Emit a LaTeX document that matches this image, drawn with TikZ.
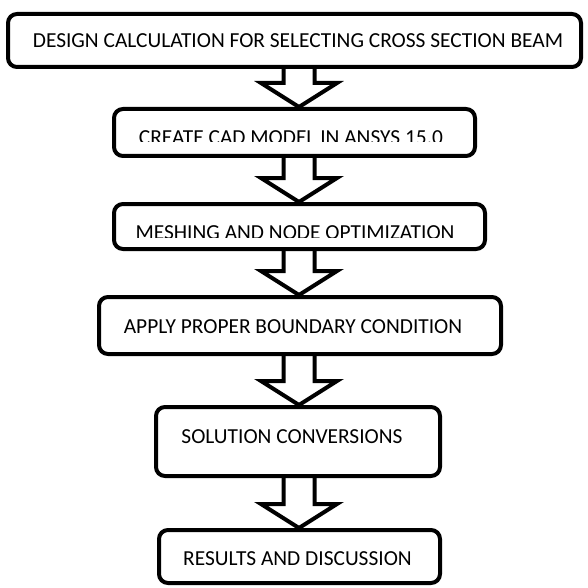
\documentclass[tikz,border=0pt]{standalone}
\usepackage{fontspec}
\setmainfont{Carlito}
\usetikzlibrary{calc}

\tikzset{
	stepbox/.style={draw=black, line width=4pt, rounded corners=9pt, inner sep=0pt},
	steptext/.style={anchor=base, inner sep=0pt, font=\fontsize{21.4}{25}\selectfont},
	blockarrow/.style={draw=black, line width=4pt, line join=miter},
}

\begin{document}
\begin{tikzpicture}[x=1pt, y=-1pt]
	\useasboundingbox (0,0) rectangle (587,588);

	\coordinate[](axis) at (299,0);

	\pgfmathsetmacro{\hw}{15.5}
	\pgfmathsetmacro{\hh}{38}
	\pgfmathsetmacro{\hl}{24}

	% Blocchi
	\node[stepbox, minimum width=573pt, minimum height=53pt] (design) at (294.5,40.5) {};
	\node[stepbox, minimum width=361pt, minimum height=47pt] (cad)    at (294.5,132.5) {};
	\node[stepbox, minimum width=371pt, minimum height=45pt] (mesh)   at (299.5,226.5) {};
	\node[stepbox, minimum width=402pt, minimum height=57pt] (bound)  at (300,325.5) {};
	\node[stepbox, minimum width=284pt, minimum height=69pt] (sol)    at (298,441.5) {};
	\node[stepbox, minimum width=281pt, minimum height=53pt] (res)    at (299.5,556.5) {};

	% Testi
	\node[steptext] (tdesign) at (298,48) {DESIGN CALCULATION FOR SELECTING CROSS SECTION BEAM};
	\begin{scope}
	\clip (cad.north west) rectangle ($(cad.east)+(0,9.5)$);
	\node[steptext] (tcad) at (291,145) {CREATE CAD MODEL IN ANSYS 15.0};
	\end{scope}
	\begin{scope}
	\clip (mesh.north west) rectangle ($(mesh.east)+(0,11)$);
	\node[steptext] (tmesh) at (295,239) {MESHING AND NODE OPTIMIZATION};
	\end{scope}
	\node[steptext] (tbound) at (293,333) {APPLY PROPER BOUNDARY CONDITION};
	\node[steptext] (tsol)   at (292,443) {SOLUTION CONVERSIONS};
	\node[steptext] (tres)   at (297.5,565) {RESULTS AND DISCUSSION};

	% Frecce
	\foreach \a/\b in {design/cad, cad/mesh, mesh/bound, bound/sol, sol/res}
	{
	\draw[blockarrow]
		($(\a.south -| axis)+(-\hw,0)$) -- ($(\b.north -| axis)+(-\hw,-\hl)$)
		-- ($(\b.north -| axis)+(-\hh,-\hl)$) -- (\b.north -| axis)
		-- ($(\b.north -| axis)+(\hh,-\hl)$) -- ($(\b.north -| axis)+(\hw,-\hl)$)
		-- ($(\a.south -| axis)+(\hw,0)$);
	}

\end{tikzpicture}
\end{document}
